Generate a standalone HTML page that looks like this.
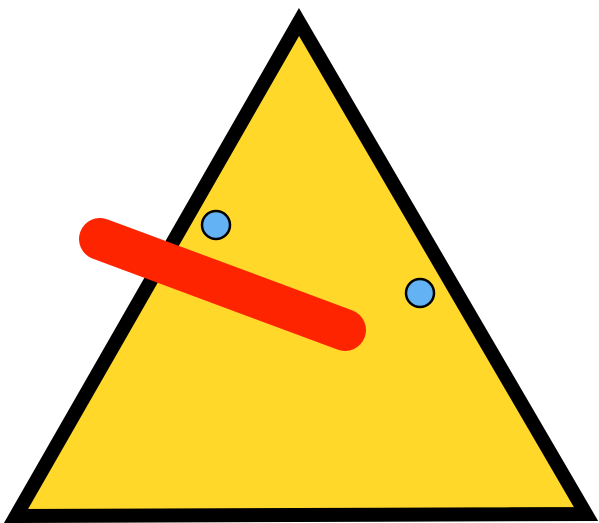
<!DOCTYPE html>
<html><head><meta charset="utf-8"><style>html,body{margin:0;padding:0;background:#fff}svg{display:block}</style></head>
<body>
<svg width="599" height="523" viewBox="0 0 599 523">
<polygon points="299,22 16,516 586,514" fill="#FFD82A" stroke="#000" stroke-width="14" stroke-linejoin="miter" stroke-miterlimit="10"/>
<line x1="100" y1="239" x2="345" y2="330" stroke="#FF2400" stroke-width="42" stroke-linecap="round"/>
<circle cx="216" cy="225" r="14" fill="#63B3F4" stroke="#000" stroke-width="2.5"/>
<circle cx="420" cy="293" r="14" fill="#63B3F4" stroke="#000" stroke-width="2.5"/>
</svg>
</body></html>
